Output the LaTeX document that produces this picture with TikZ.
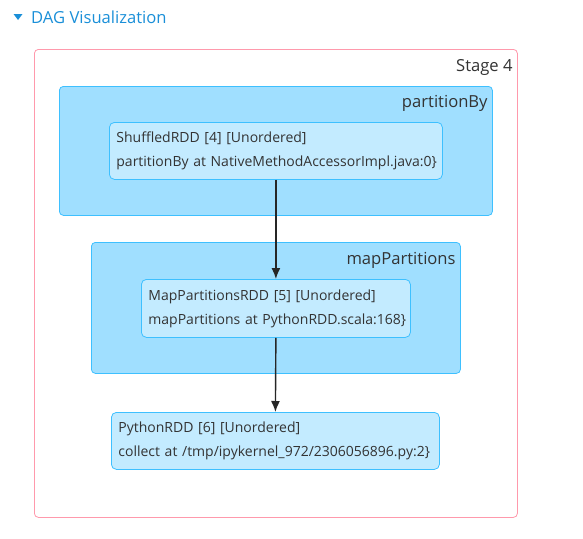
\documentclass[tikz,border=0pt]{standalone}
\usepackage{fontspec}
\setmainfont{Open Sans}
\usepackage{xcolor}
\usetikzlibrary{positioning, arrows.meta}
\definecolor{stageline}{HTML}{FF99AC}
\definecolor{clusterfill}{HTML}{A0DFFF}
\definecolor{clusterline}{HTML}{3EC0FF}
\definecolor{rddfill}{HTML}{C3EBFF}
\definecolor{txt}{HTML}{333333}
\definecolor{linkblue}{HTML}{1A8FD8}
\tikzset{
  stagebox/.style={draw=stageline, fill=white, rounded corners=4pt, line width=0.8pt, anchor=north west, inner sep=0pt},
  clusterbox/.style={draw=clusterline, fill=clusterfill, rounded corners=4pt, line width=0.8pt, anchor=north west, inner sep=0pt},
  rddbox/.style={draw=clusterline, fill=rddfill, rounded corners=5pt, line width=0.8pt, anchor=north west,
    inner sep=0pt, align=left, text=txt, font=\fontsize{14}{24}\selectfont},
  boxlabel/.style={anchor=north east, inner sep=0pt, text=txt, font=\fontsize{16.6}{20}\selectfont},
  arr/.style={-{Latex[length=11pt,width=9pt]}, line width=1.4pt, draw=black!85}
}
\begin{document}
\begin{tikzpicture}[x=1pt, y=-1pt]
    \useasboundingbox (0,0) rectangle (583,538);
    % Title
    \fill[linkblue] (13.5,14) -- (22.5,14) -- (18,20) -- cycle;
    \node[anchor=west, inner sep=0pt, text=linkblue, font=\fontsize{16.6}{20}\selectfont] (title) at (31,17) {DAG Visualization};
    % Stage
    \node[stagebox, minimum width=483pt, minimum height=468pt] (stage) at (34,49) {};
    \node[boxlabel] (stagelabel) at ([xshift=-5pt, yshift=-10pt]stage.north east) {Stage 4};
    % Clusters
    \node[clusterbox, minimum width=433pt, minimum height=129pt] (partby) at (59,86) {};
    \node[boxlabel] (partbylabel) at ([xshift=-5pt, yshift=-9pt]partby.north east) {partitionBy};
    \node[clusterbox, minimum width=369pt, minimum height=131pt] (mappart) at (91,242) {};
    \node[boxlabel] (mappartlabel) at ([xshift=-5pt, yshift=-10pt]mappart.north east) {mapPartitions};
    % RDDs
    \node[rddbox, minimum width=333pt, minimum height=57pt, text width=319pt] (shuffled) at (109,122)
        {\mbox{ShuffledRDD [4] [Unordered]}\\\mbox{partitionBy at NativeMethodAccessorImpl.java:0\}}};
    \node[rddbox, minimum width=269pt, minimum height=58pt, text width=255pt] (maprdd) at (141,279)
        {\mbox{MapPartitionsRDD [5] [Unordered]}\\\mbox{mapPartitions at PythonRDD.scala:168\}}};
    \node[rddbox, minimum width=328pt, minimum height=57pt, text width=314pt] (pyrdd) at (111,412)
        {\mbox{PythonRDD [6] [Unordered]}\\\mbox{collect at /tmp/ipykernel\_972/2306056896.py:2\}}};
    % Edges
    \draw[arr] (shuffled.south) -- (maprdd.north);
    \draw[arr] (maprdd.south) -- (pyrdd.north);
\end{tikzpicture}
\end{document}
